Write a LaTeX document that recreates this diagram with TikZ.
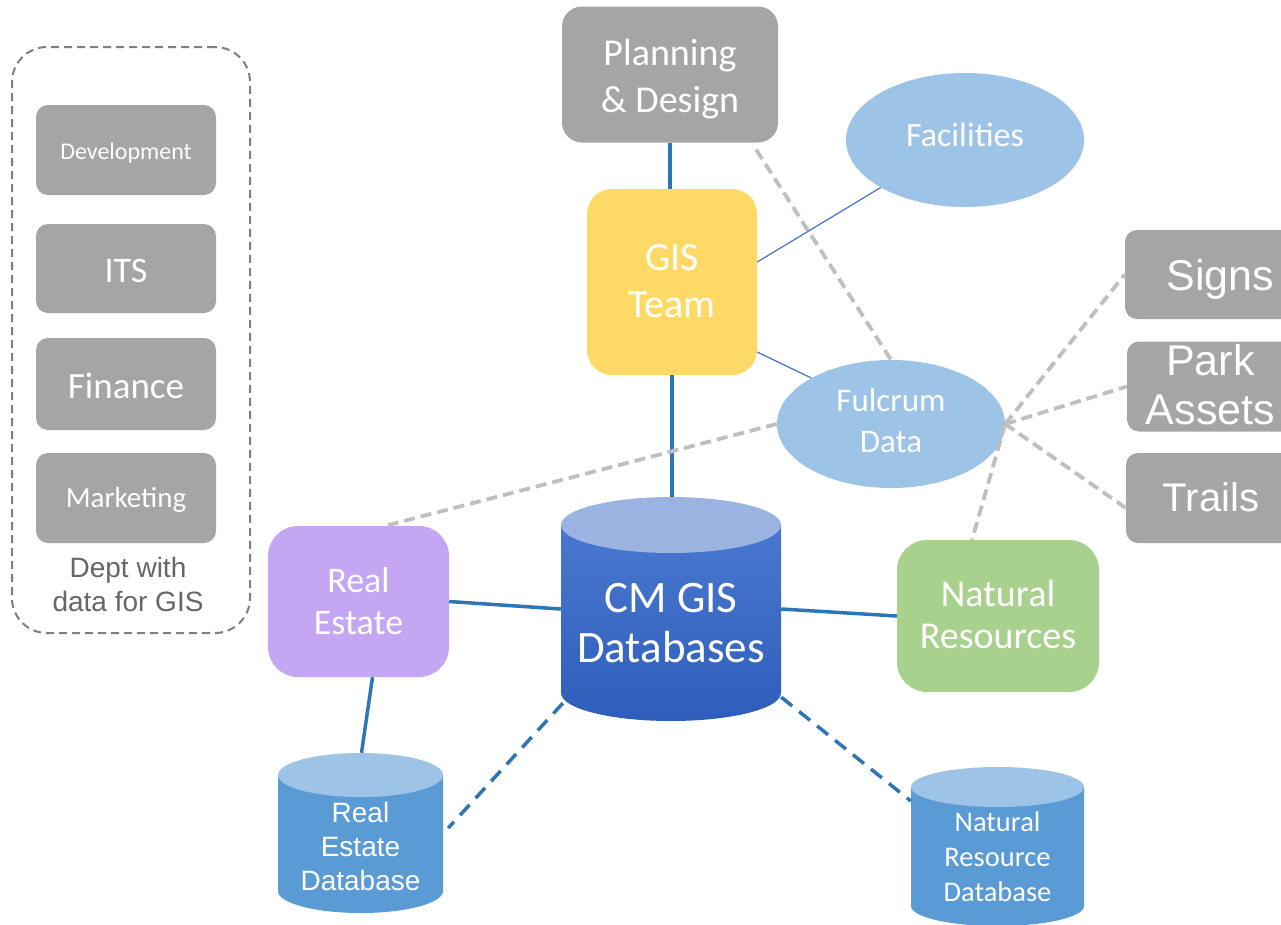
\documentclass[tikz,border=0pt]{standalone}
\usepackage{fontspec}
\setmainfont{Carlito}
\newfontfamily\arialf{Liberation Sans}
\usetikzlibrary{calc,shapes.geometric}
\definecolor{boxgray}{HTML}{A5A5A5}
\definecolor{dashgray}{HTML}{7F7F7F}
\definecolor{deptgray}{HTML}{666666}
\definecolor{gisyellow}{HTML}{FFD966}
\definecolor{lblue}{HTML}{9DC3E6}
\definecolor{repurple}{HTML}{C4A6F2}
\definecolor{nrgreen}{HTML}{A9D18E}
\definecolor{solidblue}{HTML}{2E75B6}
\definecolor{thinblue}{HTML}{4472C4}
\definecolor{conngray}{HTML}{BFBFBF}
\definecolor{cmtop}{HTML}{4A78CF}
\definecolor{cmbot}{HTML}{2E5EBB}
\definecolor{cmface}{HTML}{9BB3E0}
\definecolor{dbbody}{HTML}{5B9BD5}
\definecolor{dbface}{HTML}{9DC3E6}
\newcommand\setfs[2]{\fontsize{#1}{#2}\selectfont}
\begin{document}
\begin{tikzpicture}[x=1pt,y=-1pt,
  graybox/.style={rectangle, rounded corners=12pt, fill=boxgray, inner sep=0pt},
  softbox/.style={rectangle, inner sep=0pt},
  oval/.style={ellipse, fill=lblue, inner sep=0pt},
  holder/.style={rectangle, inner sep=0pt},
  lbl/.style={text=white, inner sep=0pt, align=center},
  solidc/.style={draw=solidblue, line width=3.5pt},
  thinc/.style={draw=thinblue, line width=1.2pt},
  graydash/.style={draw=conngray, line width=3.8pt, dash pattern=on 11pt off 6pt},
  bluedash/.style={draw=solidblue, line width=3.5pt, dash pattern=on 14pt off 9pt}]
\useasboundingbox (0,0) rectangle (1281,924);
\fill[white] (0,0) rectangle (1281,924);

% group of departments
\node[draw=dashgray, line width=2pt, dash pattern=on 8pt off 5pt, rounded corners=35pt,
      minimum width=238pt, minimum height=586pt, inner sep=0pt] (grp) at (131,340) {};
\node[graybox, minimum width=180pt, minimum height=90pt] (dev) at (126,150) {};
\node[lbl, font=\setfs{24}{29}] (devt) at ($(dev)+(0,3)$) {Development};
\node[graybox, minimum width=180pt, minimum height=89pt] (its) at (126,268.5) {};
\node[lbl, font=\setfs{36}{43}] (itst) at ($(its)+(0,2)$) {ITS};
\node[graybox, minimum width=180pt, minimum height=92pt] (fin) at (126,384) {};
\node[lbl, font=\setfs{37}{44}] (fint) at ($(fin)+(0,2)$) {Finance};
\node[graybox, minimum width=180pt, minimum height=90pt] (mkt) at (126,498) {};
\node[lbl, font=\setfs{29}{35}] (mktt) at ($(mkt)+(0,2)$) {Marketing};
\node[text=deptgray, align=center, inner sep=0pt, font=\arialf\setfs{28}{34}] (dept) at (128,584.5) {Dept with\\data for GIS};

% main nodes
\node[graybox, rounded corners=20pt, minimum width=216pt, minimum height=136pt] (pd) at (670,74.5) {};
\node[lbl, font=\setfs{38}{47}] (pdt) at ($(pd)+(0,4.5)$) {Planning\\\& Design};
\node[softbox, fill=gisyellow, rounded corners=25pt, minimum width=170pt, minimum height=186pt] (gis) at (672,282) {};
\node[lbl, font=\setfs{40}{47}] (gist) at ($(gis)+(0,-0.5)$) {GIS\\Team};
\node[oval, minimum width=238pt, minimum height=134pt] (fac) at (965,140) {};
\node[lbl, font=\setfs{34}{40}] (fact) at ($(fac)+(0,-5)$) {Facilities};
\node[oval, minimum width=228pt, minimum height=128pt] (fd) at (891,424) {};
\node[lbl, font=\setfs{33}{41}] (fdt) at ($(fd)+(0,-3)$) {Fulcrum\\Data};
\node[graybox, minimum width=191pt, minimum height=89pt] (signs) at (1220.5,274.5) {};
\node[lbl, font=\arialf\setfs{43}{49}] (signst) at ($(signs)+(0,5)$) {Signs};
\node[graybox, minimum width=171pt, minimum height=90pt] (park) at (1212.5,386.5) {};
\node[lbl, font=\arialf\setfs{43}{49}] (parkt) at ($(park)+(-2,-2)$) {Park\\Assets};
\node[graybox, minimum width=170pt, minimum height=90pt] (trails) at (1211,498) {};
\node[lbl, font=\arialf\setfs{40}{46}] (trailst) at ($(trails)+(0,-1)$) {Trails};
\node[softbox, fill=repurple, rounded corners=30pt, minimum width=181pt, minimum height=151pt] (re) at (358.5,601.5) {};
\node[lbl, font=\setfs{36}{42}] (ret) at (re) {Real\\Estate};
\node[softbox, fill=nrgreen, rounded corners=30pt, minimum width=202pt, minimum height=152pt] (nr) at (998,616) {};
\node[lbl, font=\setfs{38}{42}] (nrt) at ($(nr)+(0,-2)$) {Natural\\Resources};

% CM GIS Databases cylinder
\shade[top color=cmtop, bottom color=cmbot] (561,525) -- (561,693)
  .. controls (561,708.5) and (610.25,721) .. (671,721)
  .. controls (731.75,721) and (781,708.5) .. (781,693) -- (781,525) -- cycle;
\fill[cmface] (671,525) ellipse [x radius=110, y radius=28];
\node[holder, minimum width=220pt, minimum height=224pt] (cm) at (671,609) {};
\node[lbl, font=\setfs{45}{50}] (cmt) at (671,623) {CM GIS\\Databases};

% Real Estate Database cylinder
\fill[dbbody] (278,775) -- (278,891)
  .. controls (278,903.15) and (314.94,913) .. (360.5,913)
  .. controls (406.06,913) and (443,903.15) .. (443,891) -- (443,775) -- cycle;
\fill[dbface] (360.5,775) ellipse [x radius=82.5, y radius=22];
\node[holder, minimum width=165pt, minimum height=160pt] (redb) at (360.5,833) {};
\node[lbl, font=\arialf\setfs{28}{34}] (redbt) at (360.5,846) {Real\\Estate\\Database};

% Natural Resource Database cylinder
\fill[dbbody] (911,787) -- (911,906)
  .. controls (911,917.05) and (949.73,926) .. (997.5,926)
  .. controls (1045.27,926) and (1084,917.05) .. (1084,906) -- (1084,787) -- cycle;
\fill[dbface] (997.5,787) ellipse [x radius=86.5, y radius=20];
\node[holder, minimum width=173pt, minimum height=159pt] (nrdb) at (997.5,846.5) {};
\node[lbl, font=\setfs{28.5}{35}] (nrdbt) at (997.5,857) {Natural\\Resource\\Database};

% connectors
\draw[solidc] (pd.south) -- (pd.south |- gis.north);
\draw[solidc] (gis.south) -- (gis.south |- cm.north);
\draw[thinc] (fac.south west) -- ($(gis.east)+(0,-20)$);
\draw[thinc] ($(gis.east)+(0,70)$) -- (fd.150);
\draw[graydash] ($(pd.south east)+(-22,7)$) -- (fd.north);
\draw[graydash] (fd.west) -- ($(re.north)+(27,0)$);
\draw[graydash] (fd.east) -- (signs.west);
\draw[graydash] (fd.east) -- (park.west);
\draw[graydash] (fd.east) -- ($(trails.west)+(0,10)$);
\draw[graydash] (fd.east) -- ($(nr.north)+(-26,0)$);
\draw[solidc] (re.east) -- (cm.west);
\draw[solidc] (cm.east) -- (nr.west);
\draw[solidc] ($(re.south)+(14,0)$) -- ($(redb.north)+(1,0)$);
\draw[solidc] ($(nr.south)+(-16,0)$) -- ($(nr.south)+(-16,0)$ |- nrdb.north);
\draw[bluedash] ($(cm.south west)+(2,-18)$) -- ($(redb.east)+(5,-5)$);
\draw[bluedash] ($(cm.south east)+(0,-24)$) -- ($(nrdb.west)+(0,-45.5)$);
\end{tikzpicture}
\end{document}
